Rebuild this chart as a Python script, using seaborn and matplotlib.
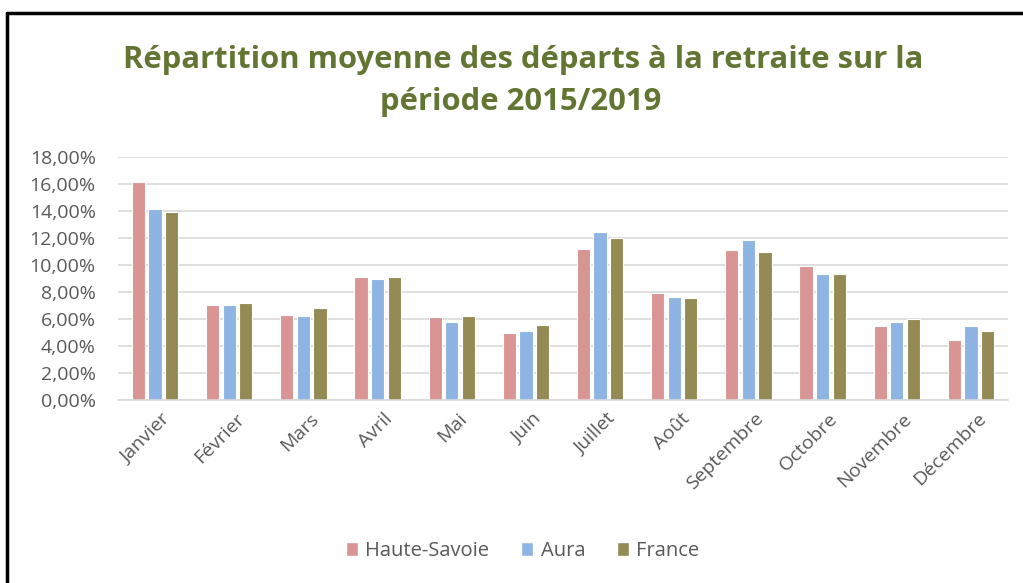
import numpy as np
import pandas as pd
import seaborn as sns
import matplotlib.pyplot as plt
import matplotlib.transforms as mtransforms
from matplotlib.ticker import FuncFormatter, MultipleLocator
from matplotlib.lines import Line2D
from matplotlib.patches import Patch

mois = ["Janvier", "Février", "Mars", "Avril", "Mai", "Juin", "Juillet",
        "Août", "Septembre", "Octobre", "Novembre", "Décembre"]
series = ["Haute-Savoie", "Aura", "France"]

# parts mensuelles (%)
haute_savoie = [16.13, 7.06, 6.32, 9.14, 6.12, 4.96, 11.18, 7.93, 11.10, 9.94, 5.45, 4.41]
aura = [14.13, 7.06, 6.22, 9.00, 5.75, 5.08, 12.42, 7.66, 11.85, 9.37, 5.75, 5.45]
france = [13.93, 7.16, 6.79, 9.14, 6.22, 5.55, 12.02, 7.56, 10.98, 9.37, 6.02, 5.08]

colors = ["#D99594", "#8EB4E3", "#948A54"]

df = pd.DataFrame({"Mois": mois * 3,
                   "Serie": sum([[s] * len(mois) for s in series], []),
                   "Part": np.array(haute_savoie + aura + france) / 100})

sns.set_theme(style="white")
plt.rcParams['font.family'] = ['Open Sans', 'DejaVu Sans']

fig = plt.figure(figsize=(10.23, 5.83), dpi=100)
ax = fig.add_axes([118 / 1023, 1 - 400 / 583, 890 / 1023, 243 / 583])

sns.barplot(data=df, x="Mois", y="Part", hue="Serie", order=mois, hue_order=series,
            palette=colors, width=0.67, gap=0.2, edgecolor="white", linewidth=0.8,
            saturation=1, legend=False, ax=ax)

ax.set_ylim(0, 0.18)
ax.yaxis.set_major_locator(MultipleLocator(0.02))
ax.yaxis.set_major_formatter(FuncFormatter(lambda v, p: f"{v*100:.2f}%".replace(".", ",")))
ax.grid(axis="y", color="#D9D9D9", linewidth=1.2)
ax.set_axisbelow(True)
for s in ["top", "right", "left"]:
    ax.spines[s].set_visible(False)
ax.spines["bottom"].set_color("#D9D9D9")
ax.spines["bottom"].set_linewidth(1.2)
ax.set_xlabel("")
ax.set_ylabel("")
ax.tick_params(axis="both", length=0, colors="#595959", labelsize=14)
ax.tick_params(axis="y", pad=16)
ax.tick_params(axis="x", pad=7)
shift = mtransforms.ScaledTranslation(6 / 100, 0, fig.dpi_scale_trans)
for lab in ax.get_xticklabels():
    lab.set_rotation(45)
    lab.set_ha("right")
    lab.set_rotation_mode("anchor")
    lab.set_transform(lab.get_transform() + shift)

fig.text(0.511, 1 - 60 / 583, "Répartition moyenne des départs à la retraite sur la",
         ha="center", va="center", fontsize=22.3, fontweight="bold", color="#637532")
fig.text(0.509, 1 - 102 / 583, "période 2015/2019",
         ha="center", va="center", fontsize=22.3, fontweight="bold", color="#637532")

handles = [Patch(facecolor=c, edgecolor="white", label=s) for c, s in zip(colors, series)]
fig.legend(handles=handles, loc="center", bbox_to_anchor=(0.511, 1 - 551 / 583), ncol=3,
           frameon=False, fontsize=14.5, labelcolor="#595959", handlelength=0.6,
           handleheight=0.7, handletextpad=0.35, columnspacing=1.6)

# bordure de la capture
fig.add_artist(Line2D([7 / 1023, 7 / 1023], [0, 1 - 13 / 583], color="black", linewidth=2.5,
                      transform=fig.transFigure))
fig.add_artist(Line2D([7 / 1023, 1], [1 - 13 / 583, 1 - 13 / 583], color="black", linewidth=2.5,
                      transform=fig.transFigure))

fig.savefig("out.png", dpi=100)
